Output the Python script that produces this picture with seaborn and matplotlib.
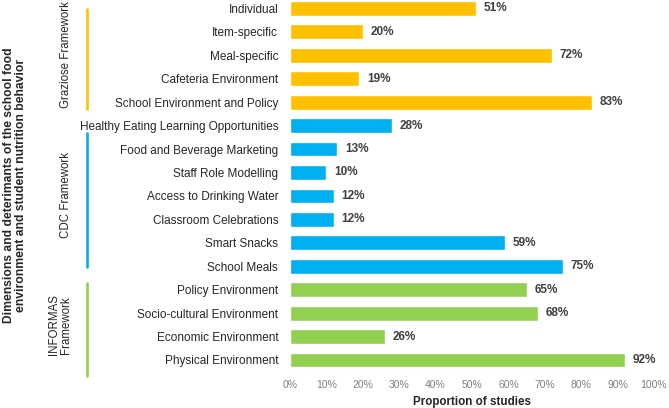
import pandas as pd
import seaborn as sns
import matplotlib.pyplot as plt
from matplotlib.lines import Line2D
from matplotlib.ticker import PercentFormatter

# Data
categories = ["Individual", "Item-specific", "Meal-specific", "Cafeteria Environment",
              "School Environment and Policy", "Healthy Eating Learning Opportunities",
              "Food and Beverage Marketing", "Staff Role Modelling", "Access to Drinking Water",
              "Classroom Celebrations", "Smart Snacks", "School Meals",
              "Policy Environment", "Socio-cultural Environment", "Economic Environment",
              "Physical Environment"]
proportions = [51, 20, 72, 19, 83, 28, 13, 10, 12, 12, 59, 75, 65, 68, 26, 92]
frameworks = ["Graziose"] * 5 + ["CDC"] * 7 + ["INFORMAS"] * 4
framework_colors = {"Graziose": "#FFC000", "CDC": "#00B0F0", "INFORMAS": "#92D050"}

df = pd.DataFrame({"Category": categories, "Proportion": proportions, "Framework": frameworks})

sns.set_style("white")
plt.rcParams["font.family"] = ["Liberation Sans", "DejaVu Sans"]

fig = plt.figure(figsize=(6.69, 4.08), dpi=100)
ax = fig.add_axes([290 / 669, 1 - 368.2 / 408, 364 / 669, 368.2 / 408])

sns.barplot(data=df, x="Proportion", y="Category", hue="Framework",
            palette=framework_colors, saturation=1, dodge=False, width=0.63,
            legend=False, orient="h", ax=ax)

# value labels
for cont in ax.containers:
    vals = [int(round(b.get_width())) for b in cont]
    ax.bar_label(cont, labels=[f"{v}%" for v in vals], padding=5.5,
                 fontsize=8.5, fontweight="bold", color="#404040")

ax.set_xlim(0, 100)
ax.set_ylim(15.35, -0.36)
ax.set_xticks(range(0, 101, 10))
ax.xaxis.set_major_formatter(PercentFormatter(decimals=0))
ax.tick_params(axis="x", length=0, pad=8.5, labelsize=7.5, labelcolor="#7F7F7F")
ax.tick_params(axis="y", length=0, pad=8.5, labelsize=8.5, labelcolor="#262626")
ax.set_ylabel("")
ax.set_xlabel("Proportion of studies", fontsize=8.4, fontweight="bold", color="#262626", labelpad=4.5)
sns.despine(ax=ax, left=True, bottom=True)

# framework group labels and brackets (pixel positions in figure coords)
W, H = 669, 408
def fx(x):
    return x / W
def fy(y):
    return 1 - y / H

fig.text(fx(66), fy(55), "Graziose Framework", rotation=90, ha="center", va="center",
         fontsize=8.3, color="#262626")
fig.text(fx(66), fy(195), "CDC Framework", rotation=90, ha="center", va="center",
         fontsize=8.3, color="#262626")
fig.text(fx(60), fy(325), "INFORMAS\nFramework", rotation=90, ha="center", va="center",
         fontsize=8.3, color="#262626", linespacing=1.0)

for (y0, y1), fw in zip([(9, 109), (133, 267), (283, 376)], ["Graziose", "CDC", "INFORMAS"]):
    fig.add_artist(Line2D([fx(87), fx(87)], [fy(y0), fy(y1)], color=framework_colors[fw],
                          lw=1.9, transform=fig.transFigure))

fig.text(fx(15), fy(185),
         "Dimensions and deterimants of the school food\nenvironment and student nutrition behavior",
         rotation=90, ha="center", va="center", fontsize=8.7, fontweight="bold",
         color="#262626", linespacing=1.05, multialignment="center")

fig.savefig("out.png", dpi=100)
